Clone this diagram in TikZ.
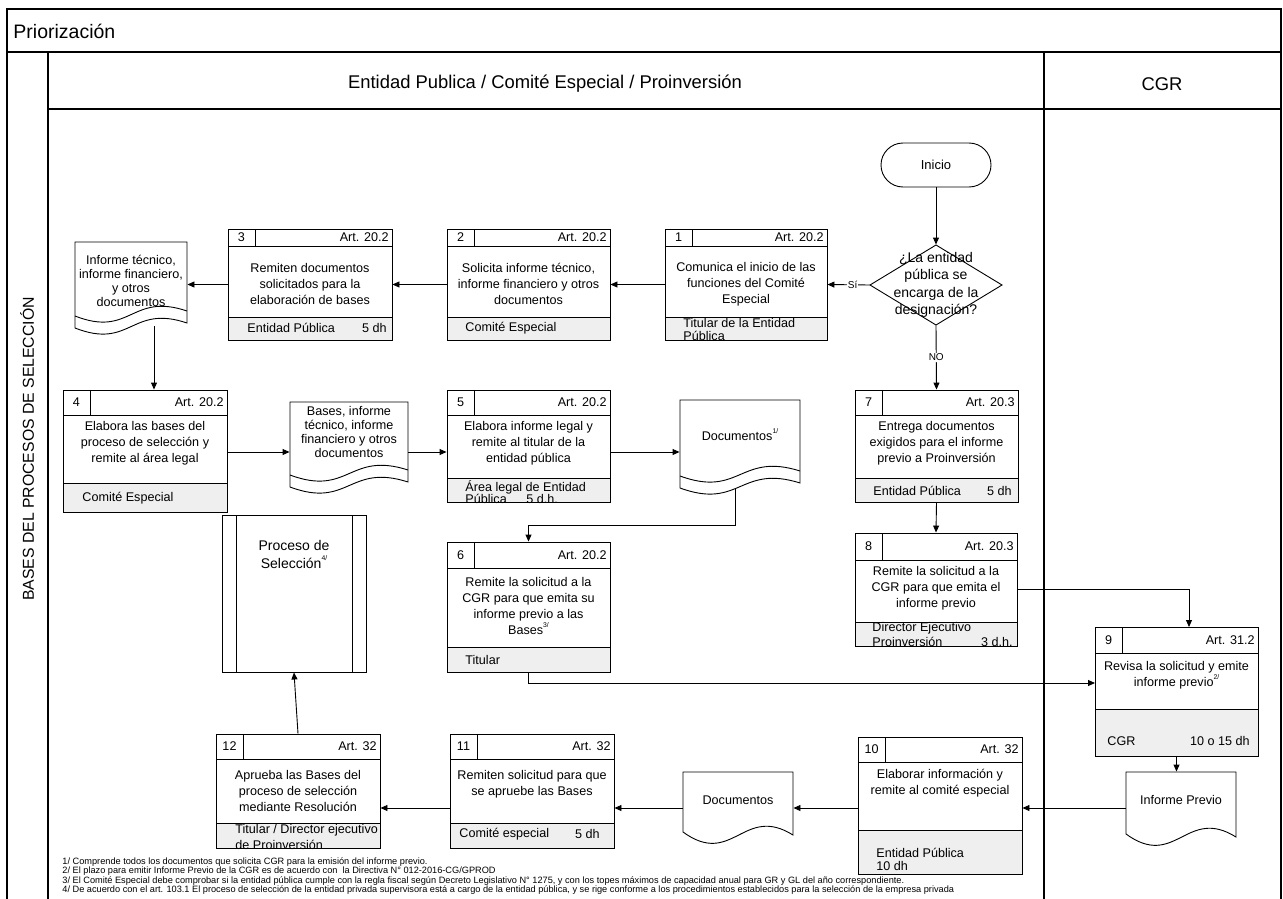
\documentclass[tikz,border=0pt]{standalone}
\usepackage{fontspec}
\setmainfont{Liberation Sans}
\usetikzlibrary{arrows.meta,fit,calc}
\definecolor{foot}{HTML}{EFEFEF}
\newcommand{\fnmark}[1]{\raisebox{0.55em}{\fontsize{6.8}{7}\selectfont #1}}
\tikzset{
  arr/.style={-{Triangle[length=7pt,width=6pt]}},
  bt/.style={font=\fontsize{12.6}{16}\selectfont, align=center, inner sep=0pt},
  dt/.style={font=\fontsize{12.6}{13.8}\selectfont, align=center, inner sep=0pt},
  ft/.style={font=\fontsize{12.6}{14}\selectfont, inner sep=0pt},
  hd/.style={font=\fontsize{18.4}{20}\selectfont, inner sep=0pt},
  lb/.style={font=\fontsize{10}{11}\selectfont, fill=white, inner sep=1pt},
  fn/.style={font=\fontsize{9.2}{9.6}\selectfont, inner sep=0pt, anchor=west},
}
% process box: name, L, T, R, B, header bottom, gray top, number, article
\newcommand{\pbox}[9]{%
  \fill[foot] (#2,#7) rectangle (#4,#5);
  \node[fit={(#2,#3) (#4,#5)}, inner sep=0pt, draw] (#1) {};
  \draw (#2,#6) -- (#4,#6) ({#2+27},#3) -- ({#2+27},#6) (#2,#7) -- (#4,#7);
  \node[bt] (#1-n) at ({#2+13.5},{(#3+#6)/2}) {#8};
  \node[bt,anchor=east] (#1-a) at ({#4-3},{(#3+#6)/2}) {#9};
}
% document with double wave: name, L, T, R, B1, B2
\newcommand{\ddoc}[6]{%
  \path[draw,fill=white] (#2,#3) -- (#4,#3) -- (#4,{#6-5})
     .. controls ({(#2+#4)/2},{#6-24}) and ({(#2+#4)/2},{#6+22}) .. (#2,#6) -- cycle;
  \draw (#2,#5) .. controls ({(#2+#4)/2},{#5+22}) and ({(#2+#4)/2},{#5-24}) .. (#4,{#5-5});
  \node[fit={(#2,#3) (#4,#6)}, inner sep=0pt] (#1) {};
}
% document with single wave: name, L, T, R, B
\newcommand{\sdoc}[5]{%
  \path[draw,fill=white] (#2,#3) -- (#4,#3) -- (#4,{#5+3})
     .. controls ({#2+0.55*(#4-#2)},{#5-28}) and ({#2+0.45*(#4-#2)},{#5+36}) .. (#2,#5) -- cycle;
  \node[fit={(#2,#3) (#4,#5)}, inner sep=0pt] (#1) {};
}
\begin{document}
\begin{tikzpicture}[x=1pt,y=-1pt,line width=0.9pt]
\useasboundingbox (0,0) rectangle (1283,899);
% frame and lanes
\draw[line width=1.3pt] (7,899) -- (7,9) -- (1281,9) -- (1281,899);
\draw[line width=1.1pt] (7,52) -- (1281,52);
\draw[line width=1.1pt] (48,109) -- (1281,109);
\draw[line width=1.1pt] (48,52) -- (48,899);
\draw[line width=1.1pt] (1044,52) -- (1044,899);
\node[hd,anchor=west,font=\fontsize{19.5}{21}\selectfont] (title) at (13,31) {Priorización};
\node[hd] (lane1) at (545,84) {Entidad Publica / Comité Especial / Proinversión};
\node[hd] (lane2) at (1162,84) {CGR};
\node[hd,rotate=90,font=\fontsize{15.8}{18}\selectfont] (pool) at (27,449) {BASES DEL PROCESOS DE SELECCIÓN};

% start and decision
\node[draw, rounded corners=22pt, minimum width=110pt, minimum height=44pt,
      font=\fontsize{13}{15}\selectfont] (ini) at (936,165) {Inicio};
\draw (936,245) -- (1002,285) -- (936,325) -- (870,285) -- cycle;
\node[fit={(870,245) (1002,325)}, inner sep=0pt] (dia) {};
\node[font=\fontsize{14}{17.3}\selectfont, align=center, inner sep=0pt] (dia-t) at (936,285)
  {¿La entidad\\pública se\\encarga de la\\designación?};

% boxes
\pbox{b1}{665}{229}{827}{340}{246}{317}{1}{Art. 20.2}
\pbox{b2}{447}{229}{610}{340}{246}{317}{2}{Art. 20.2}
\pbox{b3}{228}{229}{392}{340}{246}{317}{3}{Art. 20.2}
\pbox{b4}{63}{390}{227}{512}{415}{483}{4}{Art. 20.2}
\pbox{b5}{447}{390}{610}{502}{415}{478}{5}{Art. 20.2}
\pbox{b7}{855}{390}{1018}{502}{415}{478}{7}{Art. 20.3}
\pbox{b6}{447}{542}{610}{672}{568}{647}{6}{Art. 20.2}
\pbox{b8}{855}{533}{1017}{646}{560}{622}{8}{Art. 20.3}
\pbox{b9}{1095}{627}{1258}{756}{653}{709}{9}{Art. 31.2}
\pbox{b10}{858}{737}{1022}{874}{762}{830}{10}{Art. 32}
\pbox{b11}{450}{734}{614}{848}{759}{823}{11}{Art. 32}
\pbox{b12}{216}{734}{380}{848}{759}{823}{12}{Art. 32}

\node[bt] (b1-t) at (746,284) {Comunica el inicio de las\\funciones del Comité\\Especial};
\node[bt] (b2-t) at (528.5,284) {Solicita informe técnico,\\informe financiero y otros\\documentos};
\node[bt] (b3-t) at (310,284) {Remiten documentos\\solicitados para la\\elaboración de bases};
\node[bt] (b4-t) at (145,443) {Elabora las bases del\\proceso de selección y\\remite al área legal};
\node[bt] (b5-t) at (528.5,443) {Elabora informe legal y\\remite al titular de la\\entidad pública};
\node[bt] (b7-t) at (936.5,443) {Entrega documentos\\exigidos para el informe\\previo a Proinversión};
\node[bt] (b6-t) at (528.5,606) {Remite la solicitud a la\\CGR para que emita su\\informe previo a las\\Bases\fnmark{3/}};
\node[bt] (b8-t) at (936,588) {Remite la solicitud a la\\CGR para que emita el\\informe previo};
\node[bt] (b9-t) at (1176.5,675) {Revisa la solicitud y emite\\informe previo\fnmark{2/}};
\node[bt] (b10-t) at (940,783) {Elaborar información y\\remite al comité especial};
\node[bt] (b11-t) at (532,784) {Remiten solicitud para que\\se apruebe las Bases};
\node[bt] (b12-t) at (298,791) {Aprueba las Bases del\\proceso de selección\\mediante Resolución};

% footers
\node[ft,anchor=west] (b1-f1) at (683,323) {Titular de la Entidad};
\node[ft,anchor=west] (b1-f2) at (683,336) {Pública};
\node[ft,anchor=west] (b2-f1) at (465,328) {Comité Especial};
\node[ft,anchor=west] (b3-f1) at (247,328) {Entidad Pública};
\node[ft,anchor=east] (b3-f2) at (387,328) {5 dh};
\node[ft,anchor=west] (b4-f1) at (82,498) {Comité Especial};
\node[ft,anchor=west] (b5-f1) at (465,487) {Área legal de Entidad};
\node[ft,anchor=west] (b5-f2) at (465,499) {Pública};
\node[ft,anchor=west] (b5-f3) at (526,499) {5 d.h.};
\node[ft,anchor=west] (b7-f1) at (873,491) {Entidad Pública};
\node[ft,anchor=east] (b7-f2) at (1012,491) {5 dh};
\node[ft,anchor=west] (b6-f1) at (465,660) {Titular};
\node[ft,anchor=west] (b8-f1) at (872,628) {Director Ejecutivo};
\node[ft,anchor=west] (b8-f2) at (872,642) {Proinversión};
\node[ft,anchor=east] (b8-f3) at (1013,642) {3 d.h.};
\node[ft,anchor=west] (b9-f1) at (1107,741) {CGR};
\node[ft,anchor=east] (b9-f2) at (1250,741) {10 o 15 dh};
\node[ft,anchor=west] (b10-f1) at (876,853) {Entidad Pública};
\node[ft,anchor=west] (b10-f2) at (876,866) {10 dh};
\node[ft,anchor=west] (b11-f1) at (459,834) {Comité especial};
\node[ft,anchor=east] (b11-f2) at (600,834) {5 dh};
\node[ft,anchor=west] (b12-f1) at (235,830) {Titular / Director ejecutivo};
\node[ft,anchor=west] (b12-f2) at (235,845) {de Proinversión};

% documents
\ddoc{d1}{75}{242}{187}{316}{328}
\node[dt] (d1-t) at (131,281) {Informe técnico,\\informe financiero,\\y otros\\documentos};
\ddoc{d2}{290}{402}{408}{475}{487}
\node[dt] (d2-t) at (349,432) {Bases, informe\\técnico, informe\\financiero y otros\\documentos};
\ddoc{d3}{680}{400}{800}{476}{488}
\node[bt] (d3-t) at (740,435) {Documentos\fnmark{1/}};
\sdoc{d4}{683}{772}{793}{832}
\node[bt] (d4-t) at (738,800) {Documentos};
\sdoc{d5}{1126}{772}{1236}{834}
\node[bt] (d5-t) at (1181,800) {Informe Previo};

% predefined process
\node[fit={(222,515) (366,672)}, inner sep=0pt, draw] (proc) {};
\draw (236,515) -- (236,672) (352,515) -- (352,672);
\node[font=\fontsize{14}{18}\selectfont, align=center, inner sep=0pt] (proc-t) at (294,554) {Proceso de\\Selección\fnmark{4/}};

% row coordinates
\coordinate (row2) at (0,452);
\coordinate (row3) at (0,808);
\coordinate (d1b) at (154,326);
\coordinate (d3b) at (735,489);
\coordinate (j1) at (735,525);
\coordinate (r9w) at (1095,683);
\coordinate (r9n) at (1189,627);

% connectors
\draw[arr] (ini.south) -- (dia.north);
\draw[arr] (dia.west) -- node[lb,pos=0.4] (si) {Sí} (b1.east);
\draw[arr] (b1.west) -- (b2.east);
\draw[arr] (b2.west) -- (b3.east);
\draw[arr] (b3.west) -- (b3.west -| d1.east);
\draw[arr] (d1b) -- (d1b |- b4.north);
\draw[arr] (b4.east |- row2) -- (d2.west |- row2);
\draw[arr] (d2.east |- row2) -- (b5.west |- row2);
\draw[arr] (b5.east |- row2) -- (d3.west |- row2);
\draw[arr] (d3b) -- (j1) -| (b6.north);
\draw[arr] (dia.south) -- node[lb] (no) {NO} (b7.north);
\draw[arr] (b7.south) -- (b8.north);
\draw[arr] (b8.east) -| (r9n);
\draw[arr] (b6.south) |- (r9w);
\draw[arr] (b9.south) -- (b9.south |- d5.north);
\draw[arr] (d5.west |- row3) -- (b10.east |- row3);
\draw[arr] (b10.west |- row3) -- (d4.east |- row3);
\draw[arr] (d4.west |- row3) -- (b11.east |- row3);
\draw[arr] (b11.west |- row3) -- (b12.east |- row3);
\draw[arr] (b12.north) -- (proc.south);

% footnotes
\node[fn] (fn1) at (62,862) {1/ Comprende todos los documentos que solicita CGR para la emisión del informe previo.};
\node[fn] (fn2) at (62,871.5) {2/ El plazo para emitir Informe Previo de la CGR es de acuerdo con\ \ la Directiva N° 012-2016-CG/GPROD};
\node[fn] (fn3) at (62,881) {3/ El Comité Especial debe comprobar si la entidad pública cumple con la regla fiscal según Decreto Legislativo N° 1275, y con los topes máximos de capacidad anual para GR y GL del año correspondiente.};
\node[fn] (fn4) at (62,890.5) {4/ De acuerdo con el art. 103.1 El proceso de selección de la entidad privada supervisora está a cargo de la entidad pública, y se rige conforme a los procedimientos establecidos para la selección de la empresa privada};
\end{tikzpicture}
\end{document}
